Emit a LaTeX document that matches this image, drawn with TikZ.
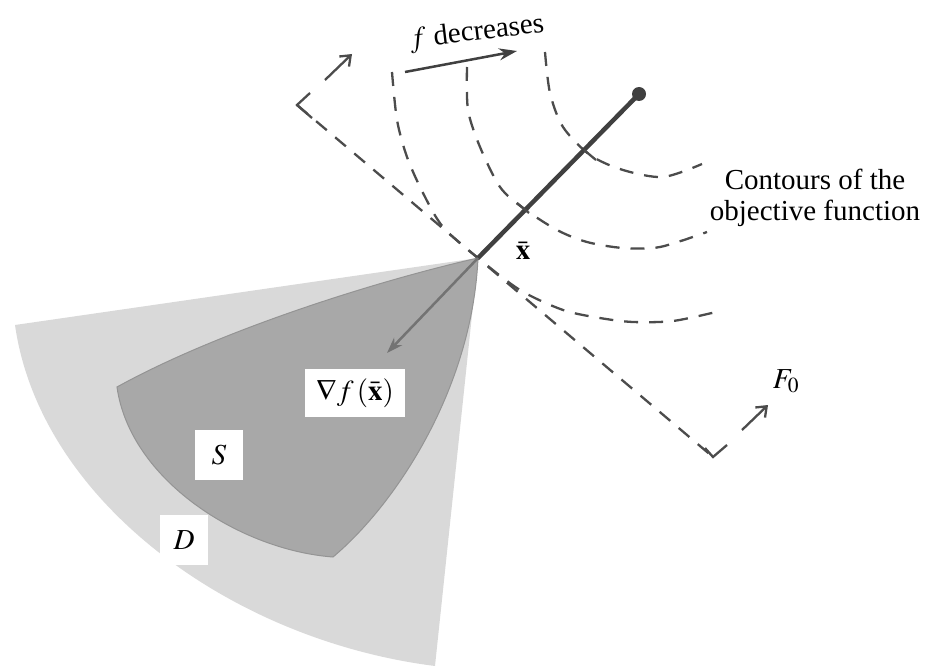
\documentclass[tikz,border=0pt]{standalone}
\usepackage{mathptmx}
\usepackage{fontspec}
\setmainfont{Liberation Serif}
\usetikzlibrary{arrows.meta}

\begin{document}
\begin{tikzpicture}[x=1pt, y=-1pt,
  font=\fontsize{29}{31}\selectfont,
  contour/.style={dash pattern=on 14pt off 11pt, line width=2.3pt, draw=black!70},
  corner/.style={line width=2.3pt, draw=black!70},
  box/.style={fill=white, inner sep=0pt}]
  \useasboundingbox (0,0) rectangle (926,666);
  \coordinate (xbar) at (478,258);
  \coordinate (top) at (639,94);
  \coordinate (grad) at (387,353);
  \coordinate (Dl) at (15,325);
  \coordinate (Db) at (435,666);
  \coordinate (Sl) at (117,387);
  \coordinate (Sb) at (333,557);
  \coordinate (Fa) at (297,105);
  \coordinate (Fb) at (713,457);
  % regions D and S
  \fill[black!15] (xbar) -- (Dl) .. controls (40,500) and (230,640) .. (Db) -- cycle;
  \filldraw[fill=black!34, draw=black!42, line width=1pt] (xbar)
    .. controls (380,280) and (220,330) .. (Sl)
    .. controls (130,480) and (240,550) .. (Sb)
    .. controls (395,505) and (472,390) .. (xbar);
  % contours
  \draw[contour] plot[smooth] coordinates {(392,72) (397,120) (407,157) (423,193) (443,227) (478,258) (520,290) (563,310) (600,318) (633,322) (673,321) (716,312)};
  \draw[contour] plot[smooth] coordinates {(467,67) (468,110) (480,147) (500,187) (523,208) (557,230) (587,242) (623,248) (660,247) (707,232)};
  \draw[contour] plot[smooth] coordinates {(545,52) (550,93) (563,127) (590,155) (623,170) (663,177) (702,164)};
  % hyperplane F0
  \draw[contour] (Fa) -- (Fb);
  \draw[corner] (310,93) -- (Fa) -- (312,118);
  \draw[corner] (705,448) -- (Fb) -- (727,445);
  \draw[corner, -{Straight Barb[length=9pt, width=14pt, line width=2.3pt]}] (325,80) -- (352,54);
  \draw[corner, -{Straight Barb[length=9pt, width=14pt, line width=2.3pt]}] (742,430) -- (768,405);
  \node (F0) at (786,381) {$F_0$};
  % gradient
  \draw[line width=4.5pt, black!75] (xbar) -- (top);
  \fill[black!75] (top) circle[radius=7pt];
  \draw[corner] (584,150) -- (596,160);
  \draw[corner] (517,203) -- (529,213);
  \draw[black!55, line width=2.5pt, -{Stealth[length=16pt, width=11pt]}] (xbar) -- (grad);
  \draw[black!75, line width=2.5pt, -{Stealth[length=18pt, width=12pt]}] (405,72) -- (517,51);
  % labels
  \node[rotate=7] (fdec) at (477,33) {$f$ decreases};
  \node[align=center] (cont) at (815,198) {Contours of the\\objective function};
  \node (xlbl) at (523,251) {$\bar{\mathbf{x}}$};
  \node[box, minimum width=100pt, minimum height=48pt] (gradlbl) at (355,393) {$\nabla f\,(\bar{\mathbf{x}})$};
  \node[box, minimum width=48pt, minimum height=50pt] (Slbl) at (219,455) {$S$};
  \node[box, minimum width=48pt, minimum height=50pt] (Dlbl) at (184,540) {$D$};
\end{tikzpicture}
\end{document}
